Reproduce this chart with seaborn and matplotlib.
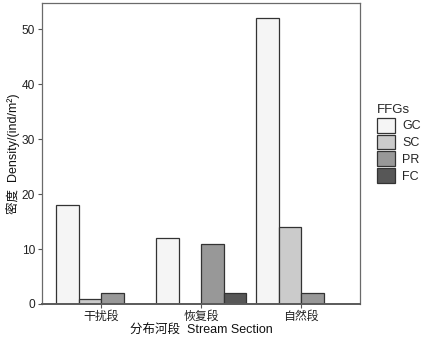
import pandas as pd
import matplotlib
matplotlib.use("Agg")
import matplotlib.pyplot as plt
import seaborn as sns
from matplotlib.patches import Patch

# data
sections = ["干扰段", "恢复段", "自然段"]
ffgs = ["GC", "SC", "PR", "FC"]
gc = [18, 12, 52]
sc = [1, 0, 14]
pr = [2, 11, 2]
fc = [0, 2, 0]

colors = ["#F5F5F5", "#CBCBCB", "#989898", "#575757"]

rows = []
for i, s in enumerate(sections):
    for g, vals in zip(ffgs, [gc, sc, pr, fc]):
        rows.append({"section": s, "FFG": g, "density": vals[i]})
df = pd.DataFrame(rows)
df = df[df["density"] > 0]

sns.set_style("white")
plt.rcParams["font.family"] = ["Liberation Sans", "Noto Sans CJK SC", "DejaVu Sans"]

fig = plt.figure(figsize=(4.23, 3.38), dpi=100)
ax = fig.add_axes([42 / 423, 34 / 338, 318 / 423, 301 / 338])

sns.barplot(data=df, x="section", y="density", hue="FFG", order=sections,
            hue_order=ffgs, palette=colors, width=0.9, errorbar=None,
            edgecolor="#333333", linewidth=0.9, ax=ax)

ax.set_xlim(-0.59, 2.59)
ax.set_ylim(0, 54.8)
ax.set_yticks([0, 10, 20, 30, 40, 50])

for side in ["top", "right", "left"]:
    ax.spines[side].set_color("#6a6a6a")
    ax.spines[side].set_linewidth(0.9)
ax.spines["bottom"].set_color("#5a5a5a")
ax.spines["bottom"].set_linewidth(1.4)

ax.tick_params(axis="both", length=3, width=0.8, color="#555555",
               labelsize=8.6, labelcolor="#222222", pad=2, bottom=True, left=True)

ax.set_xlabel("分布河段  Stream Section", fontsize=9, color="#111111", labelpad=1)
ax.set_ylabel("密度  Density/(ind/m²)", fontsize=9, color="#111111")
ax.yaxis.set_label_coords(-0.068, 0.5)

ax.get_legend().remove()
handles = [Patch(facecolor=c, edgecolor="#333333", linewidth=0.9) for c in colors]
leg = fig.legend(handles, ffgs, title="FFGs", loc="upper left",
                 bbox_to_anchor=(377 / 423, 1 - 104 / 338), frameon=False,
                 fontsize=9, title_fontsize=9.5, handlelength=1.45,
                 handleheight=1.45, labelspacing=0.15, handletextpad=0.55,
                 borderaxespad=0, borderpad=0)
leg._legend_box.align = "left"

fig.savefig("out.png", dpi=100)
